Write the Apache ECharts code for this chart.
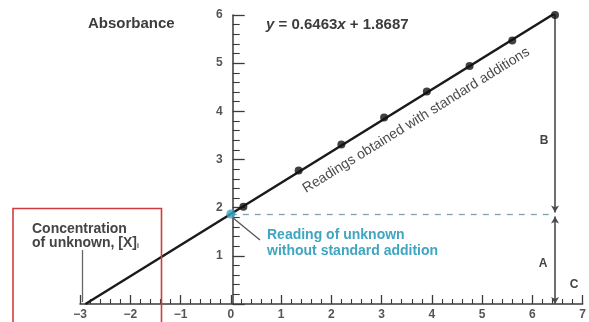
<!DOCTYPE html>
<html>
<head>
<meta charset="utf-8">
<script src="https://cdn.jsdelivr.net/npm/echarts@6/dist/echarts.min.js"></script>
<style>
  html, body { margin: 0; padding: 0; background: #ffffff; }
  #chart { width: 589px; height: 322px; }
</style>
</head>
<body>
<div id="chart"></div>
<script>
// Standard-additions calibration: fitted line y = slope * x + intercept
const slope = 0.6463;
const intercept = 1.8687;

// Absorbance readings after each standard addition
const additionX = [0.25, 1.35, 2.2, 3.05, 3.9, 4.75, 5.6, 6.45];
const additionY = [2.02, 2.77, 3.31, 3.87, 4.41, 4.94, 5.47, 6.0];

// Axis ranges
const xMin = -3, xMax = 7;
const yMin = 0, yMax = 6;

const font = 'Liberation Sans, Arial, sans-serif';
const gridLeft = 80, gridRight = 0, gridTop = 15, gridBottom = 18;
const gridWidth = 589 - gridLeft - gridRight;
// shift the absorbance axis so it sits on x = 0
const yAxisOffset = -((0 - xMin) / (xMax - xMin)) * gridWidth;

const xIntercept = -intercept / slope;          // concentration of unknown
const lastX = additionX[additionX.length - 1];
const lastY = additionY[additionY.length - 1];
const axisGray = '#3a3a3a';

const chart = echarts.init(document.getElementById('chart'), null, { renderer: 'canvas' });

chart.setOption({
  backgroundColor: '#ffffff',
  animation: false,
  grid: { left: gridLeft, right: gridRight, top: gridTop, bottom: gridBottom, containLabel: false },
  xAxis: {
    type: 'value', min: xMin, max: xMax, interval: 1,
    axisLine: { onZero: false, lineStyle: { color: axisGray, width: 1.5 } },
    axisTick: { show: true, inside: true, length: 9, lineStyle: { color: axisGray, width: 1.3 } },
    minorTick: { show: true, splitNumber: 5, length: 5, lineStyle: { color: axisGray, width: 1.1 } },
    splitLine: { show: false },
    axisLabel: {
      margin: 5, color: '#555', fontFamily: font, fontSize: 12, fontWeight: 'bold',
      formatter: v => String(v).replace('-', '\u2212')
    }
  },
  yAxis: {
    type: 'value', min: yMin, max: yMax, interval: 1,
    position: 'left', offset: yAxisOffset,
    axisLine: { onZero: false, lineStyle: { color: axisGray, width: 1.5 } },
    axisTick: { show: true, inside: true, length: 12, lineStyle: { color: axisGray, width: 1.3 } },
    minorTick: { show: true, splitNumber: 5, length: 7, lineStyle: { color: axisGray, width: 1.1 } },
    splitLine: { show: false },
    axisLabel: {
      margin: 10, color: '#555', fontFamily: font, fontSize: 12, fontWeight: 'bold',
      formatter: v => (v === 0 ? '' : String(v))
    }
  },
  series: [
    {
      // fitted calibration line, extrapolated down to zero absorbance
      name: 'fit', type: 'line', silent: true, symbol: 'none',
      lineStyle: { color: '#1a1a1a', width: 2.4 },
      data: [[xIntercept, 0], [lastX, slope * lastX + intercept]],
      z: 3
    },
    {
      name: 'additions', type: 'scatter', symbolSize: 8,
      itemStyle: { color: '#111' },
      data: additionX.map((x, i) => [x, additionY[i]]),
      z: 5
    },
    {
      name: 'unknown', type: 'scatter', symbolSize: 9,
      itemStyle: { color: '#3aa3c2' },
      data: [[0, intercept]],
      z: 6,
      markLine: {
        silent: true, animation: false,
        label: { show: false },
        data: [
          // reading of unknown carried across
          [{ coord: [0, intercept], symbol: 'none', lineStyle: { type: [6, 6], color: '#84a2ab', width: 1.3 } },
           { coord: [lastX, intercept], symbol: 'none' }],
          // B: rise from the additions
          [{ coord: [lastX, lastY], symbol: 'none', lineStyle: { type: 'solid', color: '#4a4a4a', width: 1.6 } },
           { coord: [lastX, intercept + 0.03], symbol: 'arrow', symbolSize: [6, 7] }],
          // A: unknown's own reading
          [{ coord: [lastX, intercept - 0.05], symbol: 'arrow', symbolSize: [6, 7], lineStyle: { type: 'solid', color: '#4a4a4a', width: 1.6 } },
           { coord: [lastX, 0], symbol: 'arrow', symbolSize: [6, 7] }],
          // leader to the unknown's caption
          [{ coord: [0.04, intercept - 0.08], symbol: 'none', lineStyle: { type: 'solid', color: '#555', width: 1.3 } },
           { coord: [0.58, 1.33], symbol: 'none' }],
          // leader to the concentration caption
          [{ coord: [xIntercept - 0.06, 1.12], symbol: 'none', lineStyle: { type: 'solid', color: '#666', width: 1.3 } },
           { coord: [xIntercept - 0.06, 0.04], symbol: 'none' }]
        ]
      }
    }
  ]
});

// Text annotations, placed relative to the data they describe
const px = (x, y) => chart.convertToPixel({ gridIndex: 0 }, [x, y]);
const lineY = x => slope * x + intercept;
const midX = 3.5;
const mid = px(midX, lineY(midX));
const p0 = px(additionX[1], lineY(additionX[1]));
const p1 = px(additionX[5], lineY(additionX[5]));
const angle = Math.atan2(p0[1] - p1[1], p1[0] - p0[0]);
const dn = 18; // offset below the line
const lblX = mid[0] + dn * Math.sin(angle);
const lblY = mid[1] + dn * Math.cos(angle);
const bar = px(lastX, 0);
const textStyle = (size, color) => ({ fill: color, font: 'bold ' + size + 'px ' + font });

chart.setOption({
  graphic: [
    { type: 'text', x: 88, y: 24,
      style: Object.assign({ text: 'Absorbance', verticalAlign: 'middle' }, textStyle(15, '#3c3c3c')) },
    { type: 'text', x: 266, y: 25,
      style: Object.assign({
        text: '{i|y} = 0.6463{i|x} + 1.8687', verticalAlign: 'middle',
        rich: { i: { fontStyle: 'italic', fontWeight: 'bold', fontSize: 15, fontFamily: font, fill: '#3c3c3c' } }
      }, textStyle(15, '#3c3c3c')) },
    { type: 'text', x: lblX, y: lblY, rotation: angle,
      style: Object.assign({ text: 'Readings obtained with standard additions',
        align: 'center', verticalAlign: 'middle' }, { fill: '#4a4a4a', font: '14px ' + font }) },
    { type: 'text', x: 267, y: 243,
      style: Object.assign({ text: 'Reading of unknown\nwithout standard addition',
        verticalAlign: 'middle', lineHeight: 16 }, textStyle(14, '#3fa5c0')) },
    { type: 'text', x: 32, y: 236,
      style: Object.assign({
        text: 'Concentration\nof unknown, [X]{s|i}', verticalAlign: 'middle', lineHeight: 14,
        rich: { s: { fontSize: 7, fontWeight: 'bold', fontFamily: font, fill: '#444', padding: [6, 0, 0, 0] } }
      }, textStyle(14, '#444')) },
    { type: 'text', x: bar[0] - 11, y: px(0, 3.4)[1],
      style: Object.assign({ text: 'B', align: 'center', verticalAlign: 'middle' }, textStyle(12, '#444')) },
    { type: 'text', x: bar[0] - 12, y: px(0, 0.83)[1],
      style: Object.assign({ text: 'A', align: 'center', verticalAlign: 'middle' }, textStyle(12, '#444')) },
    { type: 'text', x: bar[0] + 19, y: px(0, 0.4)[1],
      style: Object.assign({ text: 'C', align: 'center', verticalAlign: 'middle' }, textStyle(12, '#444')) },
    { type: 'rect', shape: { x: 13, y: 208.5, width: 148.5, height: 130 },
      style: { fill: 'none', stroke: '#d23c3c', lineWidth: 1.6 }, z: 10 }
  ]
});
</script>
</body>
</html>
